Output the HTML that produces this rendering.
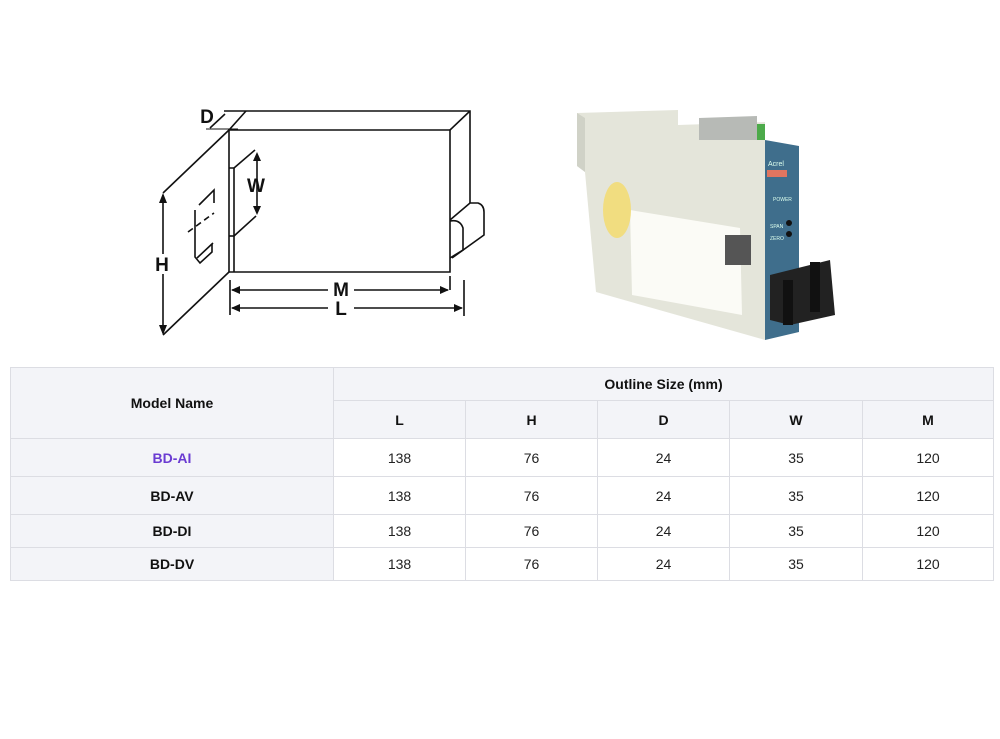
<!DOCTYPE html>
<html><head><meta charset="utf-8"><style>
body{margin:0;width:1000px;height:739px;background:#fff;font-family:"Liberation Sans",Arial,sans-serif;position:relative;overflow:hidden}
svg{position:absolute;left:0;top:0}
table{position:absolute;left:10px;top:367px;border-collapse:collapse;width:984px;font-size:14px;color:#222}
td,th{border:1px solid #dcdde3;text-align:center;padding:0}
th{background:#f3f4f8;font-weight:bold;color:#111}
td.m{background:#f3f4f8;font-weight:bold;color:#111}
</style></head><body>
<svg width="1000" height="360" viewBox="0 0 1000 360">
<g stroke="#111" stroke-width="1.6" fill="none">
<path d="M224 111 L470 111 L470 203"/>
<path d="M229 130 L450 130 L450 272 L229 272 Z" fill="#fff"/>
<path d="M450 130 L470 111"/>
<path d="M229 130 L246 111"/>
<path d="M229 130 L163 193"/>
<path d="M229 272 L163 335"/>
<path d="M229 168 L234 168 L234 272"/>
<path d="M229 236 L234 236"/>
<path d="M255 150 L234 168"/>
<path d="M256 216 L234 236"/>
<path d="M214 203 L214 190 L199 205 M195 210 L195 257 L200 263 L212 252 L212 244"/>
<path d="M188 232 L214 213" stroke-dasharray="6,4"/>
<path d="M197 258 L213 243"/>
<path d="M450 220 L470 203 L478 203 Q484 205 484 212 L484 235 L452 258"/>
<path d="M450 221 Q460 219 463 228 L463 250 L450 258"/>
<path d="M163 195 L163 333"/>
<path d="M230 280 L230 315 M450 276 L450 290 M464 280 L464 316"/>
<path d="M232 290 L328 290 M354 290 L448 290"/>
<path d="M232 308 L328 308 M354 308 L462 308"/>
<path d="M257 155 L257 212"/>
<path d="M210 128 L225 114"/>
<path d="M206 129 L238 129" stroke-width="1"/>
</g>
<rect x="154" y="254" width="18" height="20" fill="#fff"/>
<g fill="#111">
<path d="M163 193 L159 203 L167 203Z M163 335 L159 325 L167 325Z"/>
<path d="M231 290 L240 286 L240 294Z M449 290 L440 286 L440 294Z"/>
<path d="M231 308 L240 304 L240 312Z M463 308 L454 304 L454 312Z"/>
<path d="M257 152 L253 161 L261 161Z M257 215 L253 206 L261 206Z"/>
</g>
<g font-family="Liberation Sans,Arial,sans-serif" font-weight="bold" font-size="19" fill="#111" text-anchor="middle">
<text x="207" y="123">D</text>
<text x="256" y="192">W</text>
<text x="162" y="271">H</text>
<text x="341" y="296">M</text>
<text x="341" y="315">L</text>
</g>
<path d="M577 113 L678 110 L678 125 L765 122 L765 340 L596 292 L585 172 L577 166 Z" fill="#e4e5da"/>
<path d="M577 113 L577 166 L585 172 L585 118 Z" fill="#d0d2c7"/>
<path d="M699 118 L757 116 L757 140 L699 140 Z" fill="#b7bab6"/>
<rect x="757" y="124" width="8" height="16" fill="#4caa4a"/>
<path d="M765 140 L799 146 L799 332 L765 340 Z" fill="#3f6e8c"/>
<rect x="767" y="170" width="20" height="7" fill="#e07560"/>
<text x="768" y="166" font-size="7" fill="#dfe">Acrel</text>
<text x="773" y="201" font-size="5" fill="#dfe">POWER</text>
<text x="770" y="228" font-size="5" fill="#dfe">SPAN</text>
<text x="770" y="240" font-size="5" fill="#dfe">ZERO</text>
<circle cx="789" cy="223" r="3" fill="#111"/><circle cx="789" cy="234" r="3" fill="#111"/>
<path d="M630 210 L740 228 L742 315 L632 295 Z" fill="#fbfbf6"/>
<rect x="725" y="235" width="26" height="30" fill="#555"/>
<ellipse cx="617" cy="210" rx="14" ry="28" fill="#f1dd80"/>
<path d="M770 275 L830 260 L835 315 L790 325 L770 320 Z" fill="#222"/>
<rect x="810" y="262" width="10" height="50" fill="#111"/>
<rect x="783" y="280" width="10" height="45" fill="#111"/>
</svg>
<table>
<tr style="height:33px"><th rowspan="2" style="width:322px">Model Name</th><th colspan="5">Outline Size (mm)</th></tr>
<tr style="height:38px"><th style="width:131px">L</th><th style="width:131px">H</th><th style="width:131px">D</th><th style="width:132px">W</th><th>M</th></tr>
<tr style="height:38px"><td class="m" style="color:#6a3bd2">BD-AI</td><td>138</td><td>76</td><td>24</td><td>35</td><td>120</td></tr>
<tr style="height:38px"><td class="m">BD-AV</td><td>138</td><td>76</td><td>24</td><td>35</td><td>120</td></tr>
<tr style="height:33px"><td class="m">BD-DI</td><td>138</td><td>76</td><td>24</td><td>35</td><td>120</td></tr>
<tr style="height:33px"><td class="m">BD-DV</td><td>138</td><td>76</td><td>24</td><td>35</td><td>120</td></tr>
</table>
</body></html>
